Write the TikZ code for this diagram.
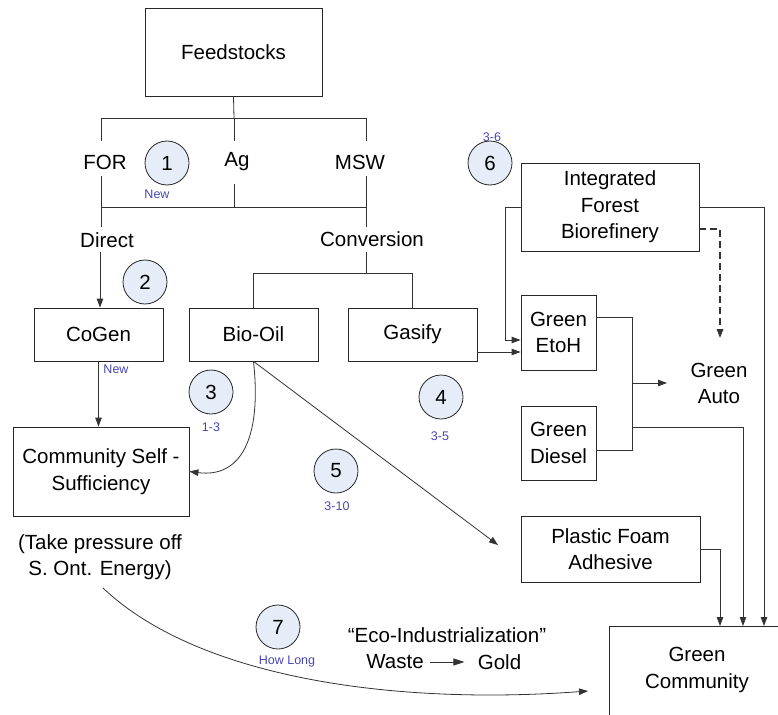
\documentclass[tikz,border=0pt]{standalone}
\usepackage{fontspec}
\setmainfont{Liberation Sans}
\usepackage{tikz}
\usetikzlibrary{arrows.meta}
\tikzset{>={Triangle[length=9pt,width=6.5pt]}}
\usepackage{xcolor}
\definecolor{circfill}{HTML}{E6EDF8}
\definecolor{notecol}{HTML}{4646B4}

\begin{document}
\begin{tikzpicture}[x=1pt,y=-1pt,
    font=\fontsize{20.5}{26.5}\selectfont,
    line width=0.8pt, color=black!80,
    every node/.append style={text=black},
    box/.style 2 args={draw=black!85, minimum width=#1, minimum height=#2, align=center, inner sep=0pt},
    lbl/.style={inner sep=1pt, align=center},
    stepcirc/.style={circle, draw=black!85, fill=circfill, minimum size=44pt, inner sep=0pt},
    note/.style={text=notecol, font=\fontsize{12.5}{14}\selectfont, inner sep=1pt}]
    \useasboundingbox (0,0) rectangle (778,714);
    \clip (0,0) rectangle (778,714);
    % Boxes
    \node[box={177}{88}] (feed) at (233.5,52) {Feedstocks};
    \node[box={129}{53}] (cogen) at (98.5,334.5) {CoGen};
    \node[box={129}{53}] (bio) at (253.5,334.5) {Bio-Oil};
    \node[box={129}{53}] (gas) at (412.5,334.5) {Gasify};
    \node[box={176}{89}] (comm) at (101,471.5) {Community Self -\\Sufficiency};
    \node[box={178}{88}] (ifb) at (610,207) {Integrated\\Forest\\Biorefinery};
    \node[box={75}{75}] (etoh) at (558.5,332.5) {Green\\EtoH};
    \node[box={75}{74}] (diesel) at (558.5,443) {Green\\Diesel};
    \node[box={179}{66}] (pfa) at (610.5,549) {Plastic Foam\\Adhesive};
    % Green Community runs off the page
    \node[lbl] (gc) at (697,670) {Green\\Community};
    \draw[black!85] ([shift={(-88,-44)}]gc.center) rectangle ([shift={(130,80)}]gc.center);
    % Plain labels
    \node[lbl] (for) at (105,162) {FOR};
    \node[lbl] (ag) at (237,162) {Ag};
    \node[lbl] (msw) at (360,162) {MSW};
    \node[lbl] (direct) at (107,240) {Direct};
    \node[lbl] (conv) at (372,239) {Conversion};
    \node[lbl] (auto) at (719,383.5) {Green\\Auto};
    \node[lbl] (press) at (100,557) {(Take pressure off\\S. Ont. Energy)};
    \node[lbl] (eco) at (447,635) {“Eco-Industrialization”};
    \node[lbl] (waste) at (395,662) {Waste};
    \node[lbl] (gold) at (499.5,662) {Gold};
    \draw[->, line width=1pt, shorten <=5pt, shorten >=12pt, >={Triangle[length=11pt,width=7pt]}] (waste) -- (gold);
    % Numbered steps with their notes
    \node[stepcirc] (s1) at (167,163) {1};
    \node[stepcirc] (s2) at (145,282) {2};
    \node[stepcirc] (s3) at (211,392) {3};
    \node[stepcirc] (s4) at (441,397) {4};
    \node[stepcirc] (s5) at (336,471) {5};
    \node[stepcirc] (s6) at (490,163) {6};
    \node[stepcirc] (s7) at (278,627) {7};
    \node[note] (n1) at (157,194) {New};
    \node[note] (n2) at (116,369) {New};
    \node[note] (n3) at (211,427) {1-3};
    \node[note] (n4) at (440,436) {3-5};
    \node[note] (n5) at (337,506) {3-10};
    \node[note] (n6) at (492,137) {3-6};
    \node[note] (n7) at (287,661) {How Long};
    % Tree under Feedstocks
    \coordinate (tl) at (101,118);
    \coordinate (tm) at (234,118);
    \coordinate (tr) at (366,118);
    \coordinate (bl) at (101,207);
    \coordinate (bm) at (234,207);
    \coordinate (br) at (366,207);
    \draw (feed.south) -- (tm);
    \draw (tl) -- (tr);
    \draw (tl) -- (101,141);
    \draw (tm) -- (234,141);
    \draw (tr) -- (366,141);
    \draw (101,176) -- (bl);
    \draw (234,184) -- (bm);
    \draw (366,176) -- (br);
    \draw (bl) -- (br);
    \draw (bl) -- (101,227);
    \draw (br) -- (366,227);
    % Direct and Conversion branches
    \coordinate (dirbot) at (100,252);
    \draw[->] (dirbot) -- (dirbot |- cogen.north);
    \coordinate (convbot) at (366,252);
    \coordinate (cj) at (366,273);
    \draw (convbot) -- (cj);
    \draw (bio.north |- cj) -- (gas.north |- cj);
    \draw (bio.north |- cj) -- (bio.north);
    \draw (gas.north |- cj) -- (gas.north);
    \draw[->] (cogen.south) -- (cogen.south |- comm.north);
    % Bio-Oil outputs
    \draw[->] (bio.south) .. controls (262,440) and (240,478) .. (comm.east);
    \coordinate (pfin) at (498,545);
    \draw[->] (bio.south) -- (pfin);
    % Into Green EtoH
    \coordinate (gasout) at (477,352);
    \draw[->] (gasout) -- (gasout -| etoh.west);
    \coordinate (ifbdrop) at (505,340);
    \draw[->] (ifb.west) -| (ifbdrop) -- (ifbdrop -| etoh.west);
    % Bus to Green Auto
    \coordinate (etohout) at (596,317);
    \coordinate (dieselout) at (596,450);
    \coordinate (bustop) at (632,317);
    \coordinate (busbot) at (632,450);
    \draw (etohout) -- (bustop) -- (busbot) -- (dieselout);
    \coordinate (busmid) at (632,383);
    \coordinate (autoin) at (667,383);
    \draw[->] (busmid) -- (autoin);
    \coordinate (ifbdash) at (699,229);
    \coordinate (autotop) at (720,338);
    \draw[->, dashed, line width=1.6pt, dash pattern=on 7pt off 4pt] (ifbdash) -| (autotop);
    % Feeds into Green Community
    \coordinate (gcin1) at (720,626);
    \coordinate (gcin2) at (743,626);
    \coordinate (gcin3) at (764,626);
    \coordinate (busgc) at (632,427);
    \draw[->] (pfa.east) -| (gcin1);
    \draw[->] (busgc) -| (gcin2);
    \draw[->] (ifb.east) -| (gcin3);
    % Long path from community
    \coordinate (pressout) at (103,588);
    \coordinate (gcwest) at (588,691);
    \draw[->] (pressout) .. controls (200,680) and (400,705) .. (gcwest);
\end{tikzpicture}
\end{document}
